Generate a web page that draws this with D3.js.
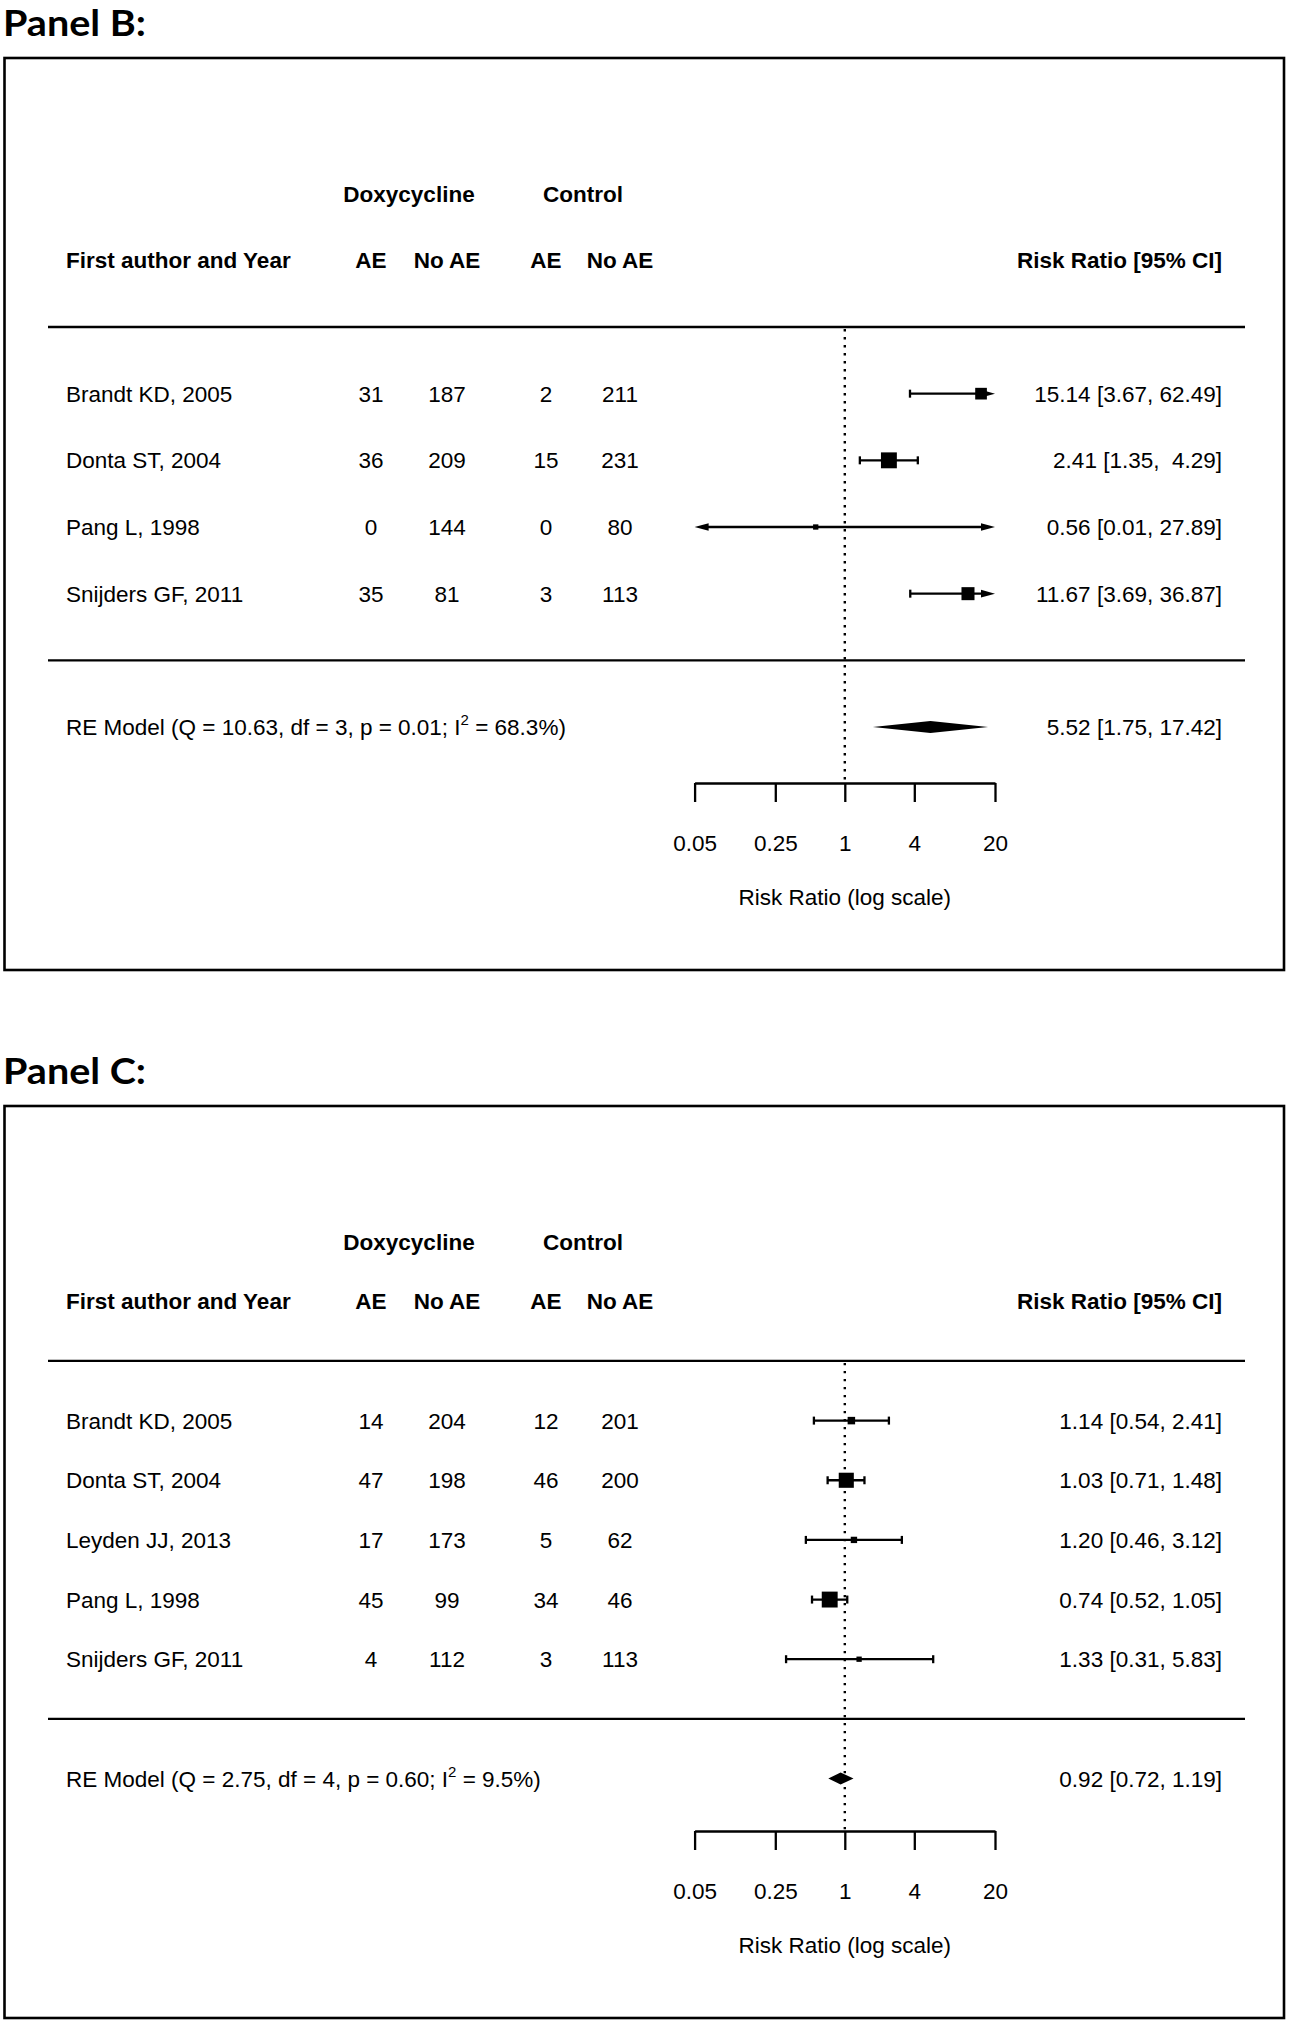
<!DOCTYPE html>
<html>
<head>
<meta charset="utf-8">
<script src="https://cdn.jsdelivr.net/npm/d3@7"></script>
<style>
  html, body { margin: 0; padding: 0; background: #fff; }
  svg text { white-space: pre; }
</style>
</head>
<body>
<div id="chart"></div>
<script>
// ---------------- DATA ----------------
const tickValues = [0.05, 0.25, 1, 4, 20];
const tickLabels = ["0.05", "0.25", "1", "4", "20"];

// Panel B
const panelBTitle = "Panel B:";
const panelBStudies = ["Brandt KD, 2005", "Donta ST, 2004", "Pang L, 1998", "Snijders GF, 2011"];
const panelBDoxyAE = [31, 36, 0, 35];
const panelBDoxyNoAE = [187, 209, 144, 81];
const panelBCtrlAE = [2, 15, 0, 3];
const panelBCtrlNoAE = [211, 231, 80, 113];
const panelBRR = [15.14, 2.41, 0.56, 11.67];
const panelBLower = [3.67, 1.35, 0.01, 3.69];
const panelBUpper = [62.49, 4.29, 27.89, 36.87];
const panelBWeights = [25.6, 37.9, 7.0, 29.5];
const panelBSummary = [5.52, 1.75, 17.42];          // estimate, lower, upper
const panelBHetero = ["10.63", "3", "0.01", "68.3"]; // Q, df, p, I2

// Panel C
const panelCTitle = "Panel C:";
const panelCStudies = ["Brandt KD, 2005", "Donta ST, 2004", "Leyden JJ, 2013", "Pang L, 1998", "Snijders GF, 2011"];
const panelCDoxyAE = [14, 47, 17, 45, 4];
const panelCDoxyNoAE = [204, 198, 173, 99, 112];
const panelCCtrlAE = [12, 46, 5, 34, 3];
const panelCCtrlNoAE = [201, 200, 62, 46, 113];
const panelCRR = [1.14, 1.03, 1.20, 0.74, 1.33];
const panelCLower = [0.54, 0.71, 0.46, 0.52, 0.31];
const panelCUpper = [2.41, 1.48, 3.12, 1.05, 5.83];
const panelCWeights = [10.9, 38.2, 6.8, 41.1, 3.0];
const panelCSummary = [0.92, 0.72, 1.19];
const panelCHetero = ["2.75", "4", "0.60", "9.5"];

// ---------------- LAYOUT ----------------
const W = 1290, H = 2026;
const FONT = "'Liberation Sans', Arial, sans-serif";
const FS = 22.5;
const LW = 2.3;

const svg = d3.select("#chart").append("svg")
  .attr("width", W).attr("height", H)
  .attr("viewBox", `0 0 ${W} ${H}`);
svg.append("rect").attr("width", W).attr("height", H).attr("fill", "#fff");

const x = d3.scaleLog().domain([0.05, 20]).range([694.6, 995]);
const alim = x.domain();

const colX = { name: 66, dAE: 371, dNo: 447, cAE: 546, cNo: 620, right: 1222 };
const lineX = [48, 1245];

function drawPanel(cfg) {
  const k = cfg.studies.length;
  const g = svg.append("g");

  // Panel title
  g.append("text")
    .attr("x", 3).attr("y", cfg.titleBaseline)
    .attr("font-family", "Lato, 'Open Sans', sans-serif")
    .attr("font-weight", "bold")
    .attr("font-size", 36)
    .attr("textLength", 143).attr("lengthAdjust", "spacingAndGlyphs")
    .text(cfg.title);

  // Box
  g.append("rect")
    .attr("x", 4.5).attr("y", cfg.boxTop)
    .attr("width", 1284 - 4.5).attr("height", 912)
    .attr("fill", "none").attr("stroke", "#000").attr("stroke-width", 2.6);

  // y scale in "row" units (R-style with 4% extension)
  const ylo = -1.5, yhi = k + 3, ext = 0.04 * (yhi - ylo);
  const plotTop = cfg.boxTop + 113;
  const plotBottom = plotTop + 612;
  const y = d3.scaleLinear().domain([ylo - ext, yhi + ext]).range([plotBottom, plotTop]);

  const txt = (sel) => sel.attr("font-family", FONT).attr("font-size", FS).attr("fill", "#000").attr("dy", "0.36em");

  // Group headers
  g.append("text").call(txt).attr("font-weight", "bold")
    .attr("x", (colX.dAE + colX.dNo) / 2).attr("y", y(k + 3)).attr("text-anchor", "middle").text("Doxycycline");
  g.append("text").call(txt).attr("font-weight", "bold")
    .attr("x", (colX.cAE + colX.cNo) / 2).attr("y", y(k + 3)).attr("text-anchor", "middle").text("Control");

  // Column headers
  const hy = y(k + 2);
  g.append("text").call(txt).attr("font-weight", "bold").attr("x", colX.name).attr("y", hy).text("First author and Year");
  [["AE", colX.dAE], ["No AE", colX.dNo], ["AE", colX.cAE], ["No AE", colX.cNo]].forEach(([t, cx]) => {
    g.append("text").call(txt).attr("font-weight", "bold").attr("x", cx).attr("y", hy).attr("text-anchor", "middle").text(t);
  });
  g.append("text").call(txt).attr("font-weight", "bold").attr("x", colX.right).attr("y", hy).attr("text-anchor", "end").text("Risk Ratio [95% CI]");

  // Horizontal separators
  [k + 1, 0].forEach(r => {
    g.append("line").attr("x1", lineX[0]).attr("x2", lineX[1]).attr("y1", y(r)).attr("y2", y(r))
      .attr("stroke", "#000").attr("stroke-width", LW);
  });

  // Reference line at 1
  g.append("line").attr("x1", x(1)).attr("x2", x(1)).attr("y1", y(k + 1) + 2).attr("y2", plotBottom)
    .attr("stroke", "#000").attr("stroke-width", 2.4).attr("stroke-dasharray", "2.4,5.6");

  // Study rows
  const rows = cfg.studies.map((s, i) => ({
    name: s, row: k - i,
    dAE: cfg.dAE[i], dNo: cfg.dNo[i], cAE: cfg.cAE[i], cNo: cfg.cNo[i],
    est: cfg.rr[i], lo: cfg.lo[i], hi: cfg.hi[i], w: cfg.w[i]
  }));

  const fmt = v => v.toFixed(2);
  const uw = d3.max(cfg.hi.concat([cfg.summary[2]]).map(v => fmt(v).length));
  const lw = d3.max(cfg.lo.concat([cfg.summary[1]]).map(v => fmt(v).length));
  const ciLabel = (e, l, u) => `${fmt(e)} [${fmt(l).padStart(lw, " ")}, ${fmt(u).padStart(uw, " ")}]`;

  const psize = d3.scaleLinear().domain(d3.extent(cfg.w)).range([0.5, 1.5]);
  const BASE = 10.6;
  const capH = 4, arrowL = 14, arrowH = 3.8;

  rows.forEach(d => {
    const yy = y(d.row);
    g.append("text").call(txt).attr("x", colX.name).attr("y", yy).text(d.name);
    [[d.dAE, colX.dAE], [d.dNo, colX.dNo], [d.cAE, colX.cAE], [d.cNo, colX.cNo]].forEach(([v, cx]) => {
      g.append("text").call(txt).attr("x", cx).attr("y", yy).attr("text-anchor", "middle").text(v);
    });
    g.append("text").call(txt).attr("x", colX.right).attr("y", yy).attr("text-anchor", "end").text(ciLabel(d.est, d.lo, d.hi));

    const loC = Math.max(d.lo, alim[0]), hiC = Math.min(d.hi, alim[1]);
    const lTrunc = d.lo < alim[0], rTrunc = d.hi > alim[1];
    g.append("line")
      .attr("x1", x(loC) + (lTrunc ? arrowL - 1 : 0)).attr("x2", x(hiC) - (rTrunc ? arrowL - 1 : 0))
      .attr("y1", yy).attr("y2", yy).attr("stroke", "#000").attr("stroke-width", LW);
    if (lTrunc) {
      const xa = x(alim[0]);
      g.append("polygon").attr("points", [[xa, yy], [xa + arrowL, yy - arrowH], [xa + arrowL, yy + arrowH]].map(p => p.join(",")).join(" ")).attr("fill", "#000");
    } else {
      g.append("line").attr("x1", x(loC)).attr("x2", x(loC)).attr("y1", yy - capH).attr("y2", yy + capH).attr("stroke", "#000").attr("stroke-width", LW);
    }
    if (rTrunc) {
      const xa = x(alim[1]);
      g.append("polygon").attr("points", [[xa, yy], [xa - arrowL, yy - arrowH], [xa - arrowL, yy + arrowH]].map(p => p.join(",")).join(" ")).attr("fill", "#000");
    } else {
      g.append("line").attr("x1", x(hiC)).attr("x2", x(hiC)).attr("y1", yy - capH).attr("y2", yy + capH).attr("stroke", "#000").attr("stroke-width", LW);
    }
    const s = psize(d.w) * BASE;
    g.append("rect").attr("x", x(d.est) - s / 2).attr("y", yy - s / 2).attr("width", s).attr("height", s).attr("fill", "#000");
  });

  // Summary (RE model)
  const ry = y(-1);
  const het = cfg.het;
  const re = g.append("text").call(txt).attr("x", colX.name).attr("y", ry);
  re.append("tspan").text(`RE Model (Q = ${het[0]}, df = ${het[1]}, p = ${het[2]}; I`);
  re.append("tspan").attr("font-size", 15).attr("dy", -10).text("2");
  re.append("tspan").attr("dy", 10).text(` = ${het[3]}%)`);
  g.append("text").call(txt).attr("x", colX.right).attr("y", ry).attr("text-anchor", "end")
    .text(ciLabel(cfg.summary[0], cfg.summary[1], cfg.summary[2]));
  const dh = 6;
  g.append("polygon")
    .attr("points", [[x(cfg.summary[1]), ry], [x(cfg.summary[0]), ry - dh], [x(cfg.summary[2]), ry], [x(cfg.summary[0]), ry + dh]].map(p => p.join(",")).join(" "))
    .attr("fill", "#000");

  // Axis
  const axis = d3.axisBottom(x).tickValues(tickValues).tickFormat((d, i) => tickLabels[i]).tickSize(19).tickSizeOuter(0);
  const ag = g.append("g").attr("transform", `translate(0,${plotBottom})`).call(axis);
  ag.select(".domain").attr("stroke", "#000").attr("stroke-width", LW);
  ag.selectAll(".tick line").attr("stroke", "#000").attr("stroke-width", LW);
  ag.selectAll(".tick text").attr("font-family", FONT).attr("font-size", FS).attr("fill", "#000")
    .attr("y", 60).attr("dy", "0.36em");
  g.append("text").call(txt).attr("x", x(1)).attr("y", plotBottom + 114).attr("text-anchor", "middle").text("Risk Ratio (log scale)");
}

drawPanel({
  title: panelBTitle, titleBaseline: 36, boxTop: 58,
  studies: panelBStudies, dAE: panelBDoxyAE, dNo: panelBDoxyNoAE, cAE: panelBCtrlAE, cNo: panelBCtrlNoAE,
  rr: panelBRR, lo: panelBLower, hi: panelBUpper, w: panelBWeights, summary: panelBSummary, het: panelBHetero
});
drawPanel({
  title: panelCTitle, titleBaseline: 1084, boxTop: 1106,
  studies: panelCStudies, dAE: panelCDoxyAE, dNo: panelCDoxyNoAE, cAE: panelCCtrlAE, cNo: panelCCtrlNoAE,
  rr: panelCRR, lo: panelCLower, hi: panelCUpper, w: panelCWeights, summary: panelCSummary, het: panelCHetero
});
</script>
</body>
</html>
